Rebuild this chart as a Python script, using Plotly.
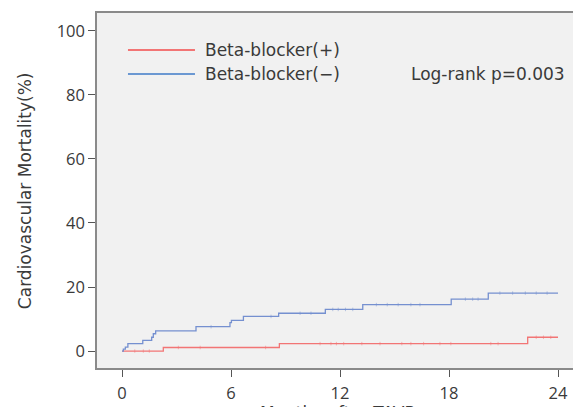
import numpy as np
import plotly.graph_objects as go

# ---- data ----
months_pos = [0, 2.27, 8.66, 22.33, 24.0]
mort_pos = [0, 1.1, 2.3, 4.3, 4.3]

months_neg = [0, 0.07, 0.18, 0.32, 1.14, 1.63, 1.72, 1.85, 4.07, 5.94, 6.02,
              6.68, 8.62, 11.19, 13.25, 18.12, 20.16, 24.0]
mort_neg = [0, 0.6, 1.2, 2.3, 3.3, 4.3, 5.4, 6.3, 7.6, 8.9, 9.6,
            10.8, 11.8, 13.0, 14.5, 16.2, 18.1, 18.1]

censor_pos = [0.7, 1.17, 1.5, 3.1, 4.3, 7.9, 10.9, 11.5, 11.8, 12.2, 13.2,
              14.2, 15.4, 15.9, 16.6, 17.5, 18.1, 20.3, 20.7, 22.8, 23.2, 23.6]
censor_neg = [4.9, 8.2, 9.8, 10.4, 11.6, 11.9, 12.3, 12.7, 14.0, 14.6, 15.2,
              15.9, 16.4, 18.9, 19.3, 19.6, 20.8, 21.5, 22.2, 22.8, 23.4]

series_names = ["Beta-blocker(+)", "Beta-blocker(−)"]
x_ticks = [0, 6, 12, 18, 24]
y_ticks = [0, 20, 40, 60, 80, 100]
pvalue_text = "Log-rank p=0.003"
x_title = "Months after TAVR"
y_title = "Cardiovascular Mortality(%)"

RED = "#f27575"
BLUE = "#7590d0"
TICK_FONT = "Open Sans"
TEXT_FONT = "DejaVu Sans"
TXT = "#3a3a3a"


def step_at(times, vals, t):
    idx = np.searchsorted(np.asarray(times), np.asarray(t), side="right") - 1
    return np.asarray(vals)[idx]


fig = go.Figure()
for times, vals, cens, col, name in [
    (months_pos, mort_pos, censor_pos, RED, series_names[0]),
    (months_neg, mort_neg, censor_neg, BLUE, series_names[1]),
]:
    fig.add_trace(go.Scatter(x=times, y=vals, mode="lines", name=name,
                             line=dict(color=col, width=1.3, shape="hv"),
                             showlegend=False))
    fig.add_trace(go.Scatter(x=cens, y=step_at(times, vals, cens), mode="markers",
                             marker=dict(symbol="line-ns", size=2.5, opacity=0.6,
                                         line=dict(color=col, width=0.8)),
                             showlegend=False, hoverinfo="skip"))

# legend drawn manually (long line samples as in the reference)
leg_rows = [(series_names[0], RED, 0.8958), (series_names[1], "#6b98d2", 0.8282)]
for name, col, yy in leg_rows:
    fig.add_shape(type="line", xref="paper", yref="paper", x0=0.0644, x1=0.2037,
                  y0=yy, y1=yy, line=dict(color=col, width=2))
    fig.add_annotation(xref="paper", yref="paper", x=0.2204, y=yy, text=name,
                       showarrow=False, xanchor="left", yanchor="middle",
                       font=dict(size=17, color=TXT, family=TEXT_FONT))

fig.add_annotation(xref="paper", yref="paper", x=0.977, y=0.8282, text=pvalue_text,
                   showarrow=False, xanchor="right", yanchor="middle",
                   font=dict(size=17, color=TXT, family=TEXT_FONT))
fig.add_annotation(xref="paper", yref="paper", x=0.5, y=-0.127, text=x_title,
                   showarrow=False, xanchor="center", yanchor="middle",
                   font=dict(size=17, color=TXT, family=TEXT_FONT))
fig.add_annotation(xref="paper", yref="paper", x=-0.1497, y=0.501, text=y_title,
                   showarrow=False, xanchor="center", yanchor="middle", textangle=-90,
                   font=dict(size=17, color=TXT, family=TEXT_FONT))

axis_common = dict(showgrid=False, zeroline=False, showline=True, mirror=True,
                   linecolor="#8a8a8a", linewidth=1.5, ticks="outside", ticklen=7,
                   tickcolor="#555555", tickwidth=1, automargin=False,
                   tickfont=dict(size=16.5, color=TXT, family=TICK_FONT))
fig.update_xaxes(range=[-1.38, 25.1], tickvals=x_ticks, ticklabelstandoff=2,
                 **axis_common)
fig.update_yaxes(range=[-5.3, 105.6], tickvals=y_ticks, ticklabelstandoff=0,
                 **axis_common)

# page body has an 8px margin: figure is 8px smaller, plot area lands at
# x 97..578, y 13..368 of the window
fig.update_layout(width=573, height=399,
                  margin=dict(l=89, r=3, t=5, b=39, autoexpand=False),
                  plot_bgcolor="#f1f1f1", paper_bgcolor="white",
                  font=dict(family=TICK_FONT, color=TXT))

fig.write_html("out.html")
